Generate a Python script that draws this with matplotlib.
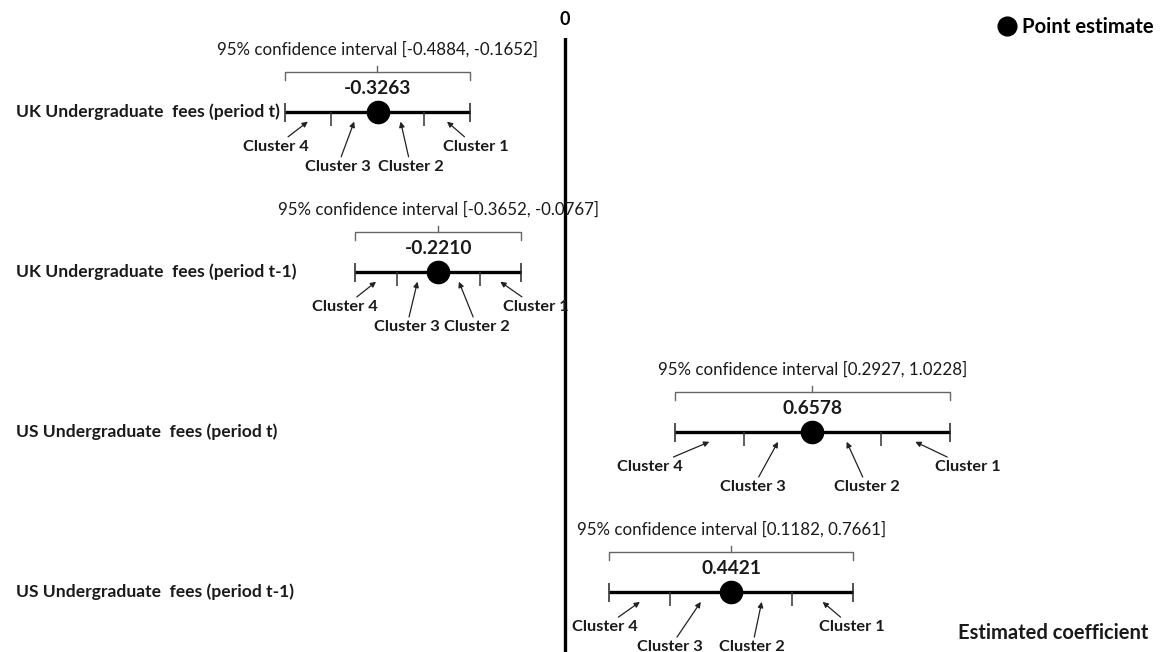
import numpy as np
import matplotlib
matplotlib.use("Agg")
import matplotlib.pyplot as plt
from matplotlib.lines import Line2D
from matplotlib.transforms import blended_transform_factory

plt.rcParams['font.family'] = ['Lato', 'DejaVu Sans']

# ---------------- data ----------------
variables = ['UK Undergraduate  fees (period t)',
             'UK Undergraduate  fees (period t-1)',
             'US Undergraduate  fees (period t)',
             'US Undergraduate  fees (period t-1)']
estimates = [-0.3263, -0.2210, 0.6578, 0.4421]
ci_low = [-0.4884, -0.3652, 0.2927, 0.1182]
ci_high = [-0.1652, -0.0767, 1.0228, 0.7661]
clusters = ['Cluster 4', 'Cluster 3', 'Cluster 2', 'Cluster 1']

# ---------------- layout / style ----------------
NEG_STRETCH = 1.5266          # the schematic draws negative values wider


def fwd(x):
    x = np.asarray(x, float)
    return np.where(x < 0, x * NEG_STRETCH, x)


def inv(u):
    u = np.asarray(u, float)
    return np.where(u < 0, u / NEG_STRETCH, u)


PY = 1 / 160.1                # data-y per pixel (rows are one unit apart)
TXT = '#1a1a1a'
# where each cluster label sits, as a fraction along the interval (per row)
label_frac = [[-0.05, 0.285, 0.68, 1.03],
              [-0.066, 0.31, 0.735, 1.09],
              [-0.09, 0.285, 0.70, 1.066],
              [-0.02, 0.25, 0.586, 0.996]]
label_dy = [35, 55, 55, 35]

fig = plt.figure(figsize=(11.68, 6.52), dpi=100)
ax = fig.add_axes([0, 0, 1, 1 - 38 / 652])
ax.set_xscale('function', functions=(fwd, inv))
ax.set_xlim(-0.9843, 1.6037)
ax.set_ylim(3.3754, -0.4597)

for s in ax.spines.values():
    s.set_visible(False)
ax.set_yticks([])
ax.xaxis.tick_top()
ax.set_xticks([0])
ax.set_xticklabels(['0'])
ax.tick_params(axis='x', length=0, pad=7, labelsize=13)
for t in ax.get_xticklabels():
    t.set_fontweight('bold')

ax.axvline(0, color='black', lw=2.4, zorder=1)

blend = blended_transform_factory(ax.transAxes, ax.transData)

for i, (name, est, lo, hi) in enumerate(zip(variables, estimates, ci_low, ci_high)):
    span = hi - lo
    mid = lo + span / 2
    # row label
    ax.text(16 / 1168, i, name, transform=blend, ha='left', va='center',
            fontsize=12.6, fontweight='bold', color=TXT)
    # CI line and ticks
    ax.hlines(i, lo, hi, color='black', lw=2.4, zorder=3)
    ax.vlines([lo, hi], i - 9 * PY, i + 10 * PY, color='#222222', lw=1.1, zorder=3)
    ax.vlines([lo + 0.25 * span, lo + 0.75 * span], i, i + 14 * PY,
              color='#333333', lw=1.1, zorder=3)
    # point estimate
    ax.plot(est, i, 'o', ms=16, color='black', zorder=5)
    ax.text(est, i - 23 * PY, f'{est:.4f}', ha='center', va='center',
            fontsize=13.8, fontweight='bold', color=TXT)
    # bracket
    ax.plot([lo, lo, hi, hi], [i - 32 * PY, i - 40 * PY, i - 40 * PY, i - 32 * PY],
            color='#666666', lw=1.0)
    ax.plot([mid, mid], [i - 40 * PY, i - 46 * PY], color='#666666', lw=1.0)
    ax.text(mid, i - 62 * PY, f'95% confidence interval [{lo:.4f}, {hi:.4f}]',
            ha='center', va='center', fontsize=12.2, color=TXT)
    # cluster annotations
    for k, cname in enumerate(clusters):
        hx = lo + (k + 0.5) / 4 * span
        tx = lo + label_frac[i][k] * span
        ax.annotate(cname, xy=(hx, i + 10 * PY), xytext=(tx, i + label_dy[k] * PY),
                    ha='center', va='center', fontsize=11.8, fontweight='bold',
                    color=TXT,
                    arrowprops=dict(arrowstyle='-|>', color='#222222', lw=0.9,
                                    mutation_scale=8, shrinkA=0, shrinkB=0))

handle = Line2D([], [], marker='o', ls='none', color='black', ms=13.5)
fig.legend([handle], ['Point estimate'], loc='center right',
           bbox_to_anchor=(1164 / 1168, 1 - 27 / 652), frameon=False,
           handletextpad=0.25, borderpad=0, handlelength=1.0,
           prop=dict(family=['Lato', 'DejaVu Sans'], weight='bold', size=14.6))

fig.text(1148 / 1168, 1 - 633 / 652, 'Estimated coefficient', ha='right',
         va='center', fontsize=14.5, fontweight='bold', color=TXT)

fig.savefig('out.png', dpi=100)
